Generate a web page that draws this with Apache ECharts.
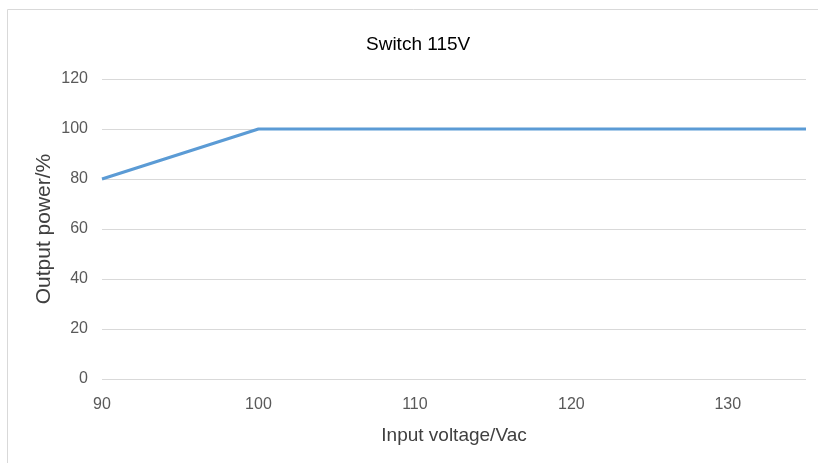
<!DOCTYPE html>
<html>
<head>
<meta charset="utf-8">
<script src="https://cdn.jsdelivr.net/npm/echarts@6/dist/echarts.min.js"></script>
<style>
  html, body { margin: 0; padding: 0; background: #fff; }
  #main { width: 818px; height: 463px; }
</style>
</head>
<body>
<div id="main"></div>
<script>
// data
var voltage = [90, 100, 135];
var power = [80, 100, 100];
var xTicks = [90, 100, 110, 120, 130];

var chart = echarts.init(document.getElementById('main'));
var font = '"Liberation Sans", Arial, sans-serif';

var option = {
    animation: false,
    title: {
        text: 'Switch 115V',
        left: 361,
        top: 30,
        textStyle: { fontFamily: font, fontSize: 19, fontWeight: 'normal', color: '#000' }
    },
    graphic: [{
        type: 'rect',
        shape: { x: 7.5, y: 9.5, width: 900, height: 600 },
        style: { fill: 'none', stroke: '#d9d9d9', lineWidth: 1 },
        silent: true
    }],
    grid: { left: 102, right: 12, top: 79, bottom: 84 },
    xAxis: {
        type: 'value',
        min: 90,
        max: 135,
        interval: 10,
        name: 'Input voltage/Vac',
        nameLocation: 'middle',
        nameGap: 47,
        nameTextStyle: { fontFamily: font, fontSize: 19, color: '#404040' },
        axisLine: { show: false },
        axisTick: { show: false },
        splitLine: { show: false },
        axisLabel: {
            fontFamily: font, fontSize: 16, color: '#595959', margin: 18,
            showMaxLabel: false,
            formatter: function (v) { return xTicks.indexOf(v) >= 0 ? String(v) : ''; }
        }
    },
    yAxis: {
        type: 'value',
        min: 0,
        max: 120,
        interval: 20,
        name: 'Output power/%',
        nameLocation: 'middle',
        nameGap: 47,
        nameMoveOverlap: false,
        nameTextStyle: { fontFamily: font, fontSize: 21, color: '#404040' },
        axisLine: { show: false },
        axisTick: { show: false },
        axisLabel: { fontFamily: font, fontSize: 16, color: '#595959', margin: 14 },
        splitLine: { lineStyle: { color: '#d9d9d9', width: 1 } }
    },
    series: [{
        type: 'line',
        data: voltage.map(function (v, i) { return [v, power[i]]; }),
        symbol: 'none',
        lineStyle: { color: '#5b9bd5', width: 3 }
    }]
};

chart.setOption(option);
</script>
</body>
</html>
